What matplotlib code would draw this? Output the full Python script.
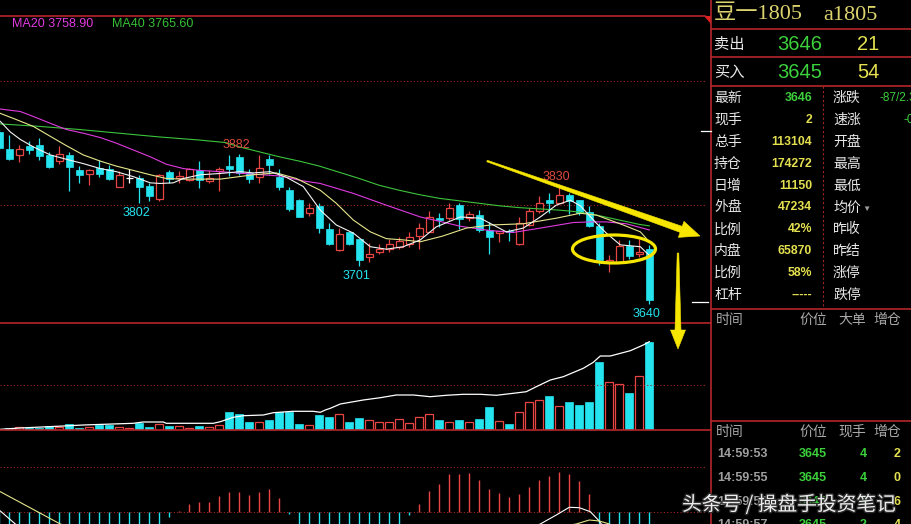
import matplotlib
matplotlib.use('Agg')
import matplotlib.pyplot as plt
from matplotlib.patches import Rectangle, Ellipse, Polygon
import matplotlib.patheffects as pe
import numpy as np

W, H = 911, 524
CJK = ['Noto Sans CJK SC', 'DejaVu Sans']
plt.rcParams['font.family'] = ['Liberation Sans', 'DejaVu Sans']

# ---- candles ----
opens = [3917, 3889, 3880, 3894, 3896, 3880, 3870, 3880, 3856, 3850,
         3859, 3857, 3829, 3842, 3842, 3830, 3809, 3853, 3842, 3840,
         3856, 3838, 3854, 3862, 3876, 3851, 3844, 3873, 3845, 3823,
         3807, 3786, 3798, 3760, 3726, 3755, 3744, 3715, 3723, 3728,
         3731, 3736, 3749, 3756, 3779, 3778, 3800, 3778, 3783, 3759,
         3754, 3757, 3737, 3767, 3790, 3807, 3803, 3816, 3807, 3788,
         3766, 3708, 3708, 3733, 3721, 3728]
highs = [3922, 3912, 3896, 3903, 3908, 3884, 3894, 3885, 3862, 3858,
         3872, 3864, 3854, 3857, 3848, 3834, 3849, 3856, 3854, 3859,
         3870, 3855, 3861, 3880, 3882, 3858, 3880, 3880, 3858, 3828,
         3809, 3803, 3803, 3770, 3762, 3756, 3745, 3738, 3737, 3744,
         3747, 3755, 3771, 3790, 3787, 3803, 3802, 3790, 3791, 3772,
         3758, 3760, 3780, 3795, 3813, 3818, 3830, 3818, 3808, 3797,
         3770, 3718, 3743, 3743, 3744, 3735]
lows = [3888, 3872, 3869, 3882, 3872, 3859, 3865, 3822, 3834, 3831,
        3845, 3839, 3828, 3834, 3802, 3806, 3805, 3835, 3835, 3838,
        3827, 3834, 3822, 3846, 3848, 3834, 3834, 3849, 3823, 3790,
        3780, 3782, 3754, 3734, 3725, 3734, 3701, 3707, 3721, 3723,
        3728, 3732, 3729, 3755, 3764, 3775, 3760, 3774, 3756, 3720,
        3740, 3742, 3735, 3765, 3787, 3786, 3802, 3785, 3783, 3764,
        3702, 3692, 3706, 3712, 3716, 3640]
closes = [3891, 3874, 3890, 3888, 3879, 3861, 3881, 3861, 3848, 3855,
          3849, 3841, 3848, 3842, 3828, 3814, 3848, 3841, 3846, 3857,
          3840, 3843, 3858, 3858, 3851, 3841, 3859, 3864, 3828, 3793,
          3780, 3795, 3762, 3736, 3752, 3736, 3711, 3721, 3728, 3736,
          3742, 3747, 3762, 3780, 3775, 3794, 3776, 3785, 3759, 3747,
          3757, 3755, 3770, 3790, 3802, 3803, 3815, 3805, 3786, 3766,
          3711, 3711, 3733, 3717, 3724, 3646]

# moving averages, sampled along the drawn curves (candle index, price)
ma5_x = [0.1, 1.1, 2.1, 3.4, 5.1, 6.7, 8.4, 10.1, 11.7, 13.4, 15.1, 16.1, 17.4, 18.4,
         20.1, 22.0, 24.1, 25.4, 27.1, 28.7, 30.4, 32.1, 33.7, 35.4, 37.1, 38.7, 40.4,
         42.1, 43.7, 44.6, 46.1, 48.1, 50.7, 52.4, 54.1, 55.7, 57.1, 58.1, 59.7, 60.7,
         62.1, 64.1, 65.0]
ma5_y = [3934, 3917, 3905, 3893, 3880, 3873, 3866, 3858, 3853, 3845, 3835, 3834, 3835,
         3842, 3848, 3850, 3853, 3851, 3853, 3844, 3829, 3791, 3767, 3754, 3732, 3728,
         3732, 3743, 3764, 3770, 3780, 3778, 3756, 3762, 3780, 3799, 3807, 3798, 3770,
         3754, 3735, 3732, 3718]
ma10_x = [0.1, 1.7, 3.4, 5.1, 6.7, 8.4, 10.1, 11.7, 13.4, 15.1, 16.7, 18.4, 20.1, 22.1,
          25.4, 27.7, 29.7, 32.1, 33.7, 35.4, 37.1, 38.7, 40.4, 42.1, 44.3, 46.7, 49.1,
          52.4, 55.7, 58.1, 59.7, 62.4, 64.1, 65.0]
ma10_y = [3947, 3937, 3926, 3910, 3895, 3880, 3870, 3862, 3855, 3848, 3842, 3841, 3841,
          3841, 3848, 3851, 3842, 3823, 3802, 3775, 3756, 3745, 3743, 3740, 3749, 3762,
          3767, 3769, 3778, 3786, 3783, 3767, 3756, 3740]
ma20_x = [0.1, 2.1, 3.4, 5.1, 6.7, 8.4, 10.1, 11.7, 13.4, 15.1, 16.7, 18.4, 20.1, 22.1,
          25.4, 28.1, 30.4, 32.1, 35.4, 38.7, 42.1, 44.3, 46.1, 49.1, 51.4, 54.1, 57.4,
          59.1, 60.7, 62.7, 65.0]
ma20_y = [3954, 3950, 3942, 3931, 3921, 3915, 3908, 3899, 3888, 3877, 3865, 3858, 3855,
          3853, 3849, 3846, 3838, 3834, 3818, 3799, 3780, 3772, 3765, 3758, 3755, 3762,
          3771, 3772, 3772, 3769, 3759]
ma40_x = [0.1, 4, 8, 12, 16, 20, 22.6, 24, 26, 28, 30, 32, 34, 36, 38, 40, 42, 44, 46, 48,
          50, 52, 54, 56, 58, 60, 62, 64, 65]
ma40_y = [3930, 3926, 3921, 3915, 3909, 3904, 3900, 3893, 3885, 3877, 3870, 3862, 3852,
          3842, 3831, 3823, 3816, 3810, 3806, 3802, 3798, 3795, 3793, 3791, 3788, 3782,
          3775, 3768, 3765.6]

# volume (panel units) and the white open-interest curve
vol = [1.3, 2.3, 3.3, 2.3, 2.3, 4, 3.3, 5.7, 2.3, 3, 5.3, 5.3, 3, 2, 6.7, 3.3, 5.7, 4,
       3.7, 2, 4, 3, 5, 18, 15.7, 8, 8, 10, 17.7, 17.7, 6, 5, 15, 13.3, 15.7, 7.7, 12,
       9.7, 7.7, 7.7, 10.7, 6.7, 12.7, 15.7, 10, 7.7, 10, 7.7, 11, 22.7, 8.7, 5.7, 17.7,
       27.7, 29.7, 33.7, 23.7, 27.7, 25, 28, 68, 48.3, 45.7, 37, 53.7, 88]
oi_x = [0.1, 2.1, 6.4, 8.4, 13.4, 14.4, 16.4, 16.7, 21.4, 22.1, 23.4, 24.4, 26.4, 27.4,
        29.4, 31.4, 32.1, 32.6, 33.1, 34.1, 36.4, 38.1, 39.7, 41.4, 43.1, 44.7, 46.4,
        48.1, 49.7, 51.4, 52.7, 53.7, 55.1, 56.4, 58.4, 59.4, 60.1, 61.1, 63.1, 64.4, 65.0]
oi_y = [0.7, 2, 4, 5, 6.7, 8, 8, 6.7, 6.7, 8.3, 12.7, 14.3, 15, 17.3, 18.7, 18.7, 17.7,
        20, 21.7, 26, 30, 32.3, 35, 35, 33.3, 34.7, 35.7, 35.7, 34.7, 36.7, 38.3, 43.3,
        50, 53.3, 61.7, 67.7, 74, 74, 79.3, 85, 88.3]

# MACD histogram and lines (panel units; the lower part is cut off in the picture)
macd = [-22, -24, -25, -26, -26, -27, -26, -27, -26, -24, -22, -21, -20, -18, -17, -15,
        -14, -5, 0.8, 7.7, 10, 10, 15.7, 20, 20, 16.5, 20, 22.5, 14, -2, -16, -20, -24,
        -27, -28, -27, -26, -24, -21, -18, -14, -3, 7.7, 21, 28, 37.5, 37.5, 39, 32, 23,
        19, 15, 17.7, 25, 31.7, 36, 39.5, 38, 30.3, 18, -16, -22, -26, -28, -30, -40]
dif_x = [0.1, 1.6, 5, 20, 35, 50, 54.1, 55.7, 57.0, 58.0, 59.1, 59.9, 60.2, 62, 65]
dif_y = [0.7, -12.3, -30, -25, -35, -28, -12.3, -3.3, 4.4, 4.0, 0, -8.3, -12.3, -20, -30]
dea_x = [0.1, 6.1, 10, 30, 50, 57.7, 59.0, 60.0, 61.0, 63, 65]
dea_y = [20, -12.3, -25, -30, -25, -12.3, -8.3, -9.3, -12.3, -20, -25]

peak_idx = [24, 56]
trough_idx = [14, 36, 65]

# quote board text
sym_cn, sym_code = '豆一1805', 'a1805'
ask = ('卖出', '3646', '21')
bid = ('买入', '3645', '54')
left_labels = ['最新', '现手', '总手', '持仓', '日增', '外盘', '比例', '内盘', '比例', '杠杆']
left_values = ['3646', '2', '113104', '174272', '11150', '47234', '42%', '65870', '58%', '-----']
right_labels = ['涨跌', '速涨', '开盘', '最高', '最低', '均价', '昨收', '昨结', '涨停', '跌停']
right_values = ['-87/2.33%', '-0.27%', '', '', '', '', '', '', '', '']
big_head = ['时间', '价位', '大单', '增仓']
tick_head = ['时间', '价位', '现手', '增仓']
ticks = [('14:59:53', '3645', '4', '2'), ('14:59:55', '3645', '4', '0'),
         ('14:59:56', '3645', '2', '6'), ('14:59:57', '3645', '2', '4')]

CYAN = '#24e4ef'
RED = '#e84545'
LINE_RED = '#b3262a'
DOT_RED = '#a02424'
GREEN = '#3cd03c'
YELLOW = '#e4e050'
ARROW = '#f6e600'

fig = plt.figure(figsize=(W / 100, H / 100), dpi=100, facecolor='black')


def px_rect(x0, y0, x1, y1):
    return [x0 / W, 1 - y1 / H, (x1 - x0) / W, (y1 - y0) / H]


def panel(y0, y1, lo, hi):
    ax = fig.add_axes(px_rect(0, y0, 705, y1))
    ax.set_axis_off()
    ax.set_xlim(0.07, 70.57)
    ax.set_ylim(lo, hi)
    return ax


n = len(closes)
idx = np.arange(n)

# ---- price panel ----
ax = panel(16, 323, 3609, 4104)
for g in (4000, 3800):
    ax.axhline(g, color=DOT_RED, lw=0.8, ls=(0, (1, 2)))
bw = 0.72
for i in range(n):
    o, h, l, c = opens[i], highs[i], lows[i], closes[i]
    top, bot = max(o, c), min(o, c)
    if c > o:
        ax.vlines(i, top, h, color=RED, lw=0.9, zorder=2)
        ax.vlines(i, l, bot, color=RED, lw=0.9, zorder=2)
        ax.add_patch(Rectangle((i - bw / 2, bot), bw, top - bot, fc='black',
                               ec=RED, lw=0.9, zorder=2))
    elif c < o:
        ax.vlines(i, l, h, color=CYAN, lw=0.9, zorder=2)
        ax.add_patch(Rectangle((i - bw / 2, bot), bw, top - bot, fc=CYAN,
                               ec=CYAN, lw=0.5, zorder=2))
    else:
        ax.vlines(i, l, h, color='white', lw=0.9, zorder=2)
        ax.hlines(o, i - bw / 2, i + bw / 2, color='white', lw=0.9, zorder=2)

ax.plot(ma40_x, ma40_y, color='#3cc43c', lw=0.8, zorder=3)
ax.plot(ma20_x, ma20_y, color='#e03ae0', lw=0.8, zorder=3)
ax.plot(ma10_x, ma10_y, color='#e6e68c', lw=0.8, zorder=3)
ax.plot(ma5_x, ma5_y, color='#f4f4f4', lw=0.8, zorder=3)

for k in peak_idx:
    ax.annotate(str(highs[k]), (k, highs[k]), xytext=(-3, 9), textcoords='offset pixels',
                ha='center', va='center', color='#dc4a3c', fontsize=9)
for k in trough_idx:
    ax.annotate(str(lows[k]), (k, lows[k]), xytext=(-3, -10), textcoords='offset pixels',
                ha='center', va='center', color=CYAN, fontsize=9)

# ---- volume panel ----
vx = panel(323, 430, 0, 107)
vx.axhline(45, color=DOT_RED, lw=0.8, ls=(0, (1, 2)))
for i in range(n):
    if closes[i] >= opens[i]:
        vx.add_patch(Rectangle((i - 0.4, 0), 0.8, vol[i], fc='black', ec=RED, lw=0.9))
    else:
        vx.add_patch(Rectangle((i - 0.4, 0), 0.8, vol[i], fc=CYAN, ec=CYAN, lw=0.5))
vx.plot(oi_x, oi_y, color='white', lw=0.9, zorder=3)

# ---- MACD panel ----
mx = panel(430, 524, -12.3, 81.7)
mx.axhline(44.7, color=DOT_RED, lw=0.8, ls=(0, (1, 2)))
mx.axhline(0, color=DOT_RED, lw=0.8, ls=(0, (1, 2)))
mcol = [RED if v > 0 else CYAN for v in macd]
mx.vlines(idx, 0, macd, colors=mcol, lw=1.0)
mx.plot(dif_x, dif_y, color='white', lw=0.8)
mx.plot(dea_x, dea_y, color='#e6e68c', lw=0.8)

# ---- overlay in pixel coordinates ----
ov = fig.add_axes([0, 0, 1, 1])
ov.set_xlim(0, W)
ov.set_ylim(H, 0)
ov.set_axis_off()
ov.patch.set_visible(False)

ov.plot([0, 705], [16, 16], color=LINE_RED, lw=1.2)
ov.plot([0, 711], [323, 323], color=LINE_RED, lw=1.2)
ov.plot([0, 711], [430, 430], color=LINE_RED, lw=1.2)
ov.plot([711, 711], [0, H], color=LINE_RED, lw=1.2)
for yy in (29, 57, 86, 309, 421):
    ov.plot([711, W], [yy, yy], color=LINE_RED, lw=1.2)
ov.plot([823, 823], [86, 309], color=DOT_RED, lw=0.8, ls=(0, (2, 2)))
ov.add_patch(Polygon([(704, 16), (711, 16), (711, 24)], fc='#e02020', ec='none'))
ov.plot([701, 711], [131, 131], color='white', lw=0.9)
ov.plot([692, 708], [302, 302], color='white', lw=0.9)

ov.text(12, 24, 'MA20 3758.90', color='#e03ae0', fontsize=9, va='center')
ov.text(112, 24, 'MA40 3765.60', color='#36c036', fontsize=9, va='center')

# quote board
ov.text(714, 15, sym_cn, family=['Liberation Serif', 'Noto Sans CJK SC'], fontsize=16,
        color='#dcd26e', va='center')
ov.text(823, 15, sym_code, family=['Liberation Serif'], fontsize=16, color='#dcd26e',
        va='center')
for (lab, price, qty), yy in ((ask, 44), (bid, 72)):
    ov.text(714, yy, lab, family=CJK, fontsize=11, color='#e8e8e8', va='center')
    ov.text(822, yy, price, fontsize=14.5, color=GREEN, va='center', ha='right')
    ov.text(857, yy, qty, fontsize=14.5, color=YELLOW, va='center')
for r in range(len(left_labels)):
    yy = 98 + r * 21.9
    ov.text(714, yy, left_labels[r], family=CJK, fontsize=10, color='#e8e8e8', va='center')
    ov.text(812, yy, left_values[r], fontsize=8.8, fontweight='bold',
            color=GREEN if r == 0 else YELLOW, va='center', ha='right')
    ov.text(833, yy, right_labels[r], family=CJK, fontsize=10, color='#e8e8e8', va='center')
    if right_values[r]:
        ov.text(880 if r == 0 else 904, yy, right_values[r], fontsize=8.5, color=GREEN,
                va='center')
ov.text(866, 98 + 5 * 21.9 + 2, '▼', fontsize=6, color='#9a9a9a', va='center', ha='center')

hx = [716, 799, 838, 873]
for t, x in zip(big_head, hx):
    ov.text(x, 320, t, family=CJK, fontsize=10, color='#a8a8a8', va='center')
for t, x in zip(tick_head, hx):
    ov.text(x, 432, t, family=CJK, fontsize=10, color='#a8a8a8', va='center')
for r, (tm, pr, q, oi) in enumerate(ticks):
    yy = 454 + r * 23.8
    ov.text(717, yy, tm, fontsize=9, fontweight='bold', color='#a0a0a0', va='center')
    ov.text(827, yy, pr, fontsize=9, fontweight='bold', color=GREEN, va='center', ha='right')
    ov.text(867, yy, q, fontsize=9, fontweight='bold', color=GREEN, va='center', ha='right')
    ov.text(901, yy, oi, fontsize=9, fontweight='bold', color=YELLOW, va='center', ha='right')

# hand-drawn markings


def taper_arrow(x0, y0, x1, y1, w0, w1, head_len, head_w):
    d = np.array([x1 - x0, y1 - y0], float)
    u = d / np.hypot(*d)
    nv = np.array([-u[1], u[0]])
    p0, tip = np.array([x0, y0], float), np.array([x1, y1], float)
    base = tip - u * head_len
    pts = [p0 + nv * w0, base + nv * w1, base + nv * head_w, tip,
           base - nv * head_w, base - nv * w1, p0 - nv * w0]
    ov.add_patch(Polygon(pts, closed=True, fc=ARROW, ec=ARROW, lw=0.4, zorder=5))


taper_arrow(487, 161, 700, 236, 0.8, 3.2, 20, 8.5)
taper_arrow(678, 253, 678, 349, 0.8, 3.0, 19, 7.5)
ov.add_patch(Ellipse((614, 249), 83, 28, fill=False, ec=ARROW, lw=2.3, zorder=5))

ov.text(682, 505, '头条号 / 操盘手投资笔记', family=CJK, fontsize=14.2, color='white',
        alpha=0.9, va='center', zorder=6,
        path_effects=[pe.withStroke(linewidth=2, foreground='#303030')])

fig.savefig('out.png', dpi=100, facecolor='black')
